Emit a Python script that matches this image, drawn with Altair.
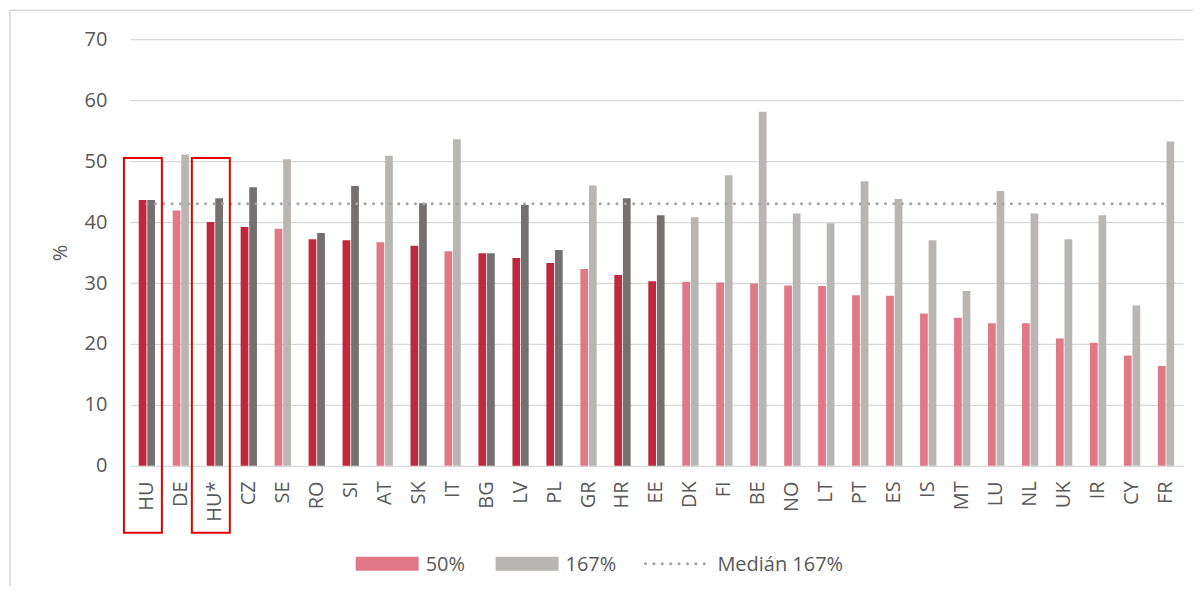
import altair as alt
import pandas as pd

countries = ["HU", "DE", "HU*", "CZ", "SE", "RO", "SI", "AT", "SK", "IT", "BG", "LV", "PL", "GR", "HR",
             "EE", "DK", "FI", "BE", "NO", "LT", "PT", "ES", "IS", "MT", "LU", "NL", "UK", "IR", "CY", "FR"]
v50 = [43.6, 41.9, 40.0, 39.2, 38.9, 37.2, 37.0, 36.7, 36.1, 35.2, 34.9, 34.1, 33.3, 32.3, 31.3,
       30.3, 30.2, 30.1, 29.9, 29.6, 29.5, 28.0, 27.9, 25.0, 24.3, 23.4, 23.4, 20.9, 20.2, 18.1, 16.4]
v167 = [43.6, 51.1, 43.9, 45.7, 50.3, 38.2, 45.9, 50.9, 43.1, 53.6, 34.9, 42.8, 35.4, 46.0, 43.9,
        41.1, 40.8, 47.7, 58.1, 41.4, 39.8, 46.7, 43.8, 37.0, 28.7, 45.1, 41.4, 37.2, 41.1, 26.3, 53.2]
highlighted = ["HU", "HU*", "CZ", "RO", "SI", "SK", "BG", "LV", "PL", "HR", "EE"]
boxed = ["HU", "HU*"]
median_167 = 43.0

series_names = ["50%", "167%"]
color_keys = ["50% kiemelt", "50%", "167% kiemelt", "167%"]
color_range = ["#C0283E", "#E07888", "#757070", "#B9B5B3"]

rows = []
for c, a, b in zip(countries, v50, v167):
    hl = c in highlighted
    rows.append({"country": c, "series": "50%", "value": a,
                 "key": "50% kiemelt" if hl else "50%"})
    rows.append({"country": c, "series": "167%", "value": b,
                 "key": "167% kiemelt" if hl else "167%"})
df = pd.DataFrame(rows)

FONT = "Open Sans"
TXT = "#595959"
FS = 20

xscale = alt.Scale(domain=countries, paddingInner=0.52, paddingOuter=0.26)
yscale = alt.Scale(domain=[0, 70])

bars = alt.Chart(df).mark_bar().encode(
    x=alt.X("country:N", scale=xscale, sort=countries,
            axis=alt.Axis(title=None, labelAngle=-90, ticks=False, domain=False,
                          labelPadding=15, labelFontSize=FS, labelColor=TXT, labelFont=FONT)),
    xOffset=alt.XOffset("series:N", sort=series_names,
                        scale=alt.Scale(domain=series_names, paddingInner=0.1)),
    y=alt.Y("value:Q", scale=yscale,
            axis=alt.Axis(title="%", values=list(range(0, 71, 10)), ticks=False, domain=False,
                          grid=True, gridColor="#D9D9D9", gridWidth=1.3,
                          labelPadding=23, labelFontSize=FS, labelColor=TXT, labelFont=FONT,
                          titleFontSize=FS, titleColor=TXT, titleFont=FONT,
                          titleFontWeight="normal", titlePadding=14)),
    color=alt.Color("key:N", scale=alt.Scale(domain=color_keys, range=color_range), legend=None),
)

med_df = pd.DataFrame({"a": [countries[0]], "b": [countries[-1]], "v": [median_167]})
median = alt.Chart(med_df).mark_rule(
    color="#A6A6A6", strokeWidth=3, strokeDash=[0.1, 8.3], strokeCap="round"
).encode(
    x=alt.X("a:N", scale=xscale, sort=countries),
    x2="b:N",
    y=alt.Y("v:Q", scale=yscale),
)

box_df = pd.DataFrame({"country": boxed, "top": [50.5, 50.5]})
boxes = alt.Chart(box_df).mark_rect(
    filled=False, stroke="#E00000", strokeWidth=2, width=38, xOffset=-4
).encode(
    x=alt.X("country:N", scale=xscale, sort=countries),
    y=alt.Y("top:Q", scale=yscale),
    y2=alt.value(494),
)

frame_left = alt.Chart(pd.DataFrame({"k": [0]})).mark_rule(color="#D9D9D9", strokeWidth=1.5).encode(
    x=alt.value(-120), y=alt.value(-29), y2=alt.value(600))
frame_top = alt.Chart(pd.DataFrame({"k": [0]})).mark_rule(color="#D9D9D9", strokeWidth=1.5).encode(
    x=alt.value(-120), x2=alt.value(1200), y=alt.value(-29))

# legend
leg = pd.DataFrame({"k": [0]})
sw1 = alt.Chart(leg).mark_rect(color="#E07888").encode(
    x=alt.value(226), x2=alt.value(289), y=alt.value(518), y2=alt.value(532))
t1 = alt.Chart(leg).mark_text(align="left", baseline="middle", font=FONT, fontSize=FS, color=TXT).encode(
    x=alt.value(296), y=alt.value(526), text=alt.value("50%"))
sw2 = alt.Chart(leg).mark_rect(color="#B9B5B3").encode(
    x=alt.value(366), x2=alt.value(429), y=alt.value(518), y2=alt.value(532))
t2 = alt.Chart(leg).mark_text(align="left", baseline="middle", font=FONT, fontSize=FS, color=TXT).encode(
    x=alt.value(436), y=alt.value(526), text=alt.value("167%"))
dl = alt.Chart(leg).mark_rule(color="#A6A6A6", strokeWidth=3, strokeDash=[0.1, 8.3], strokeCap="round").encode(
    x=alt.value(516), x2=alt.value(580), y=alt.value(525))
t3 = alt.Chart(leg).mark_text(align="left", baseline="middle", font=FONT, fontSize=FS, color=TXT).encode(
    x=alt.value(588), y=alt.value(526), text=alt.value("Medián 167%"))

chart = alt.layer(frame_left, frame_top, bars, median, boxes, sw1, t1, sw2, t2, dl, t3).properties(
    width=1054, height=427,
    autosize=alt.AutoSizeParams(type="none"),
    padding={"left": 122, "top": 31, "right": 10, "bottom": 120},
    background="white",
).configure_view(stroke=None)

chart.save("out.html", embed_options={"renderer": "svg", "actions": False})
